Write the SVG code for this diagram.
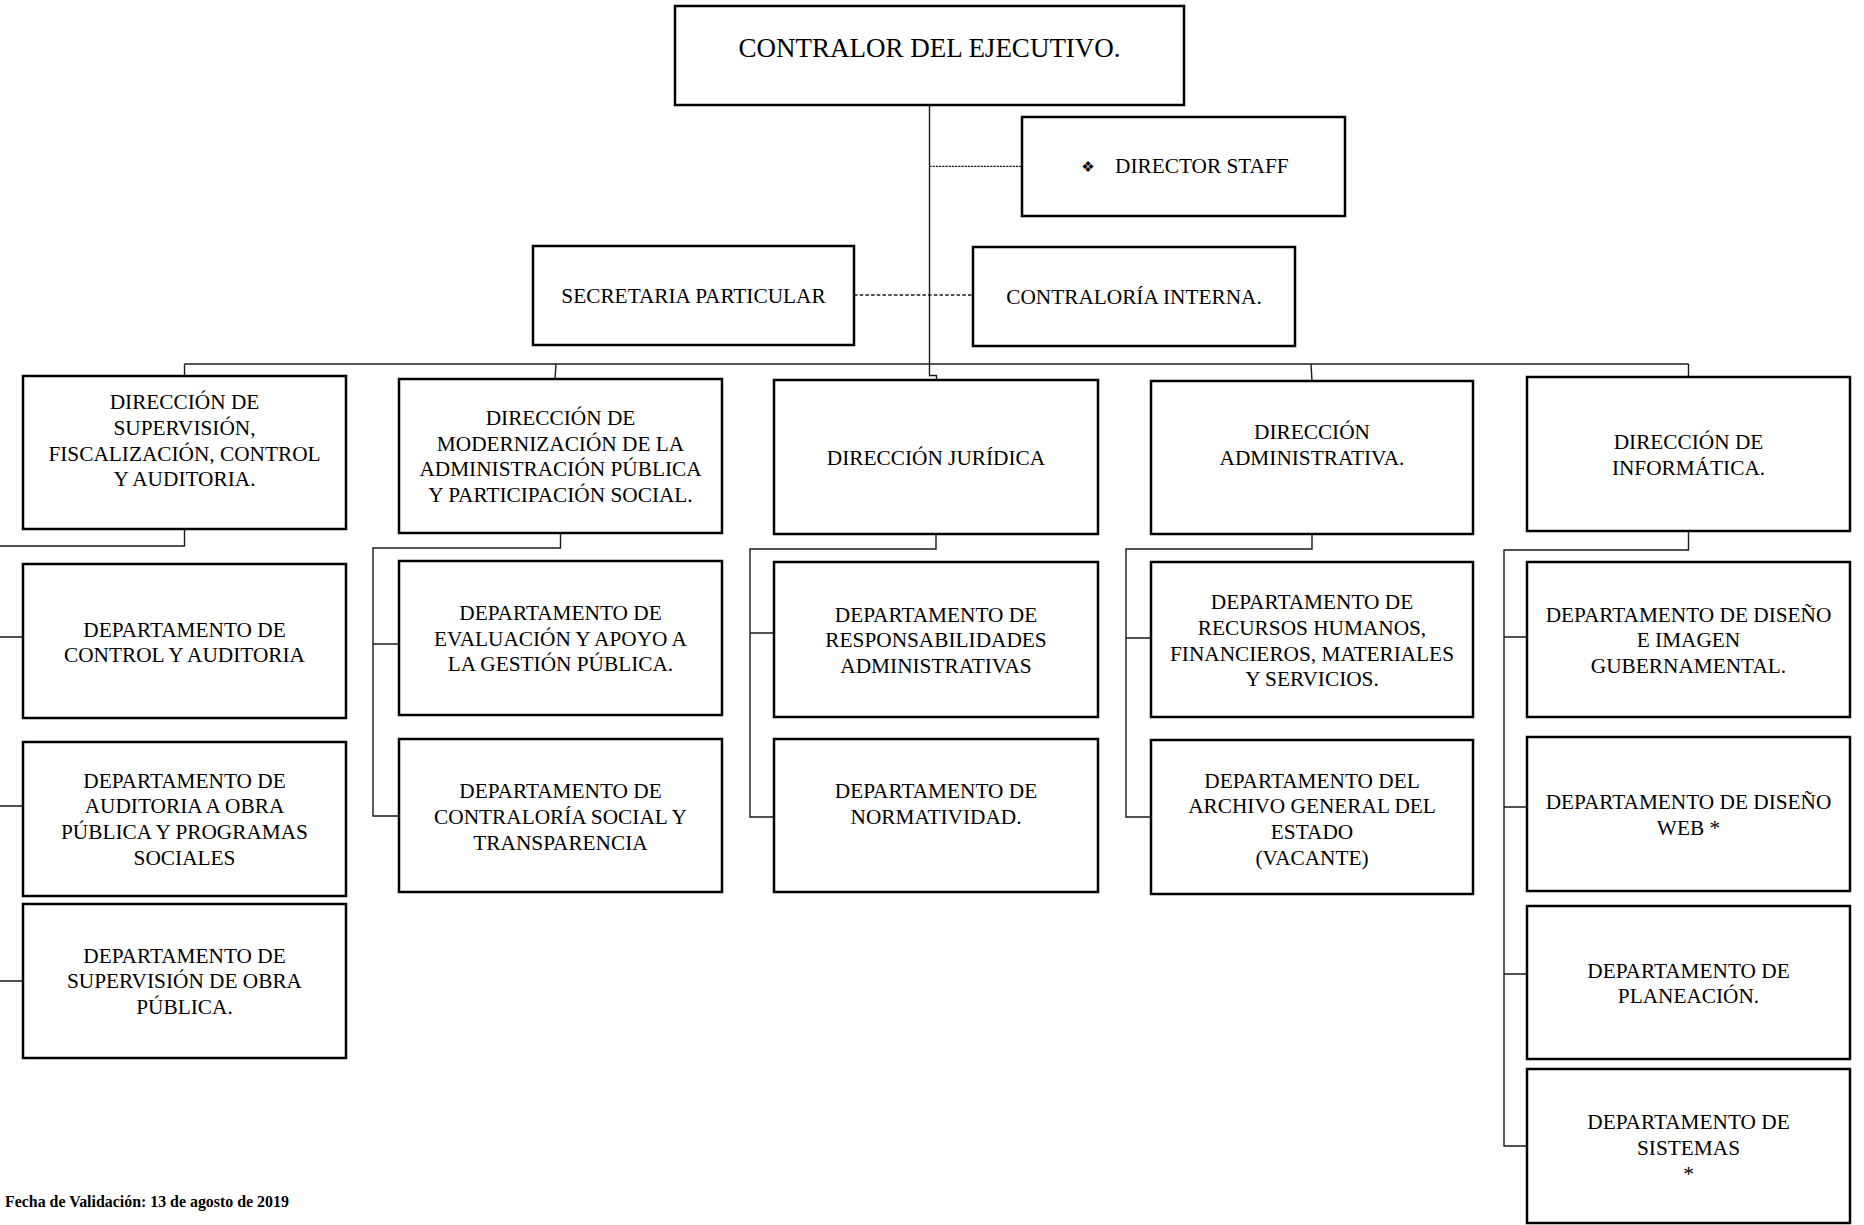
<svg xmlns="http://www.w3.org/2000/svg" width="1864" height="1225" viewBox="0 0 1864 1225">
<style>
.box{fill:#fff;stroke:#000;stroke-width:2.5}
.t{font-family:"Liberation Serif","Times New Roman",serif;font-size:21.3px;fill:#000;text-anchor:middle}
.ts{font-family:"Liberation Serif","Times New Roman",serif;font-size:21.3px;fill:#000;text-anchor:start}
.title{font-size:27px}
.ln{fill:none;stroke:#1a1a1a;stroke-width:1.4}
.dot1{fill:none;stroke:#1a1a1a;stroke-width:1.2;stroke-dasharray:2.2 1}
.dot2{fill:none;stroke:#1a1a1a;stroke-width:1.4;stroke-dasharray:3.5 2.2}
.foot{font-family:"Liberation Serif","Times New Roman",serif;font-size:15.9px;font-weight:bold;fill:#000}
</style>
<rect width="1864" height="1225" fill="#fff"/>
<g id="connectors">
<path class="ln" d="M929.5 105V375.5H936.5V380"/>
<path class="ln" d="M184.5 364H1688.5"/>
<path class="ln" d="M184.5 364V376"/>
<path class="ln" d="M556 364L555 379"/>
<path class="ln" d="M1311 364L1312 381"/>
<path class="ln" d="M1688.5 364V377"/>
<path class="dot1" d="M929.5 166.3H1022"/>
<path class="dot2" d="M854 295H973"/>
<path class="ln" d="M184.5 529V546H0"/>
<path class="ln" d="M0 637H23M0 806H23M0 981H23"/>
<path class="ln" d="M560.5 533V548H373V816H399M373 644H399"/>
<path class="ln" d="M936 534V549H750V817H774M750 633H774"/>
<path class="ln" d="M1312 534V549H1126V817H1151M1126 638H1151"/>
<path class="ln" d="M1688.5 531V550H1504V1146H1527M1504 637H1527M1504 807H1527M1504 974H1527"/>
</g>
<g id="contralor"><rect class="box" x="675" y="6" width="509" height="99"/><text class="t title" x="929.5" y="57.3">CONTRALOR DEL EJECUTIVO.</text></g>
<g id="director-staff"><rect class="box" x="1022" y="117" width="323" height="99"/><text x="1088" y="172" font-family="DejaVu Sans,sans-serif" font-size="15" text-anchor="middle">❖</text><text class="ts" x="1115" y="173.3">DIRECTOR STAFF</text></g>
<g id="secretaria"><rect class="box" x="533" y="246" width="321" height="99"/><text class="t" x="693.5" y="303.3">SECRETARIA PARTICULAR</text></g>
<g id="contraloria-interna"><rect class="box" x="973" y="247" width="322" height="99"/><text class="t" x="1134" y="304">CONTRALORÍA INTERNA.</text></g>
<g id="dir-supervision"><rect class="box" x="23" y="376" width="323" height="153"/><text class="t" x="184.5" y="409.3">DIRECCIÓN DE</text><text class="t" x="184.5" y="435">SUPERVISIÓN,</text><text class="t" x="184.5" y="460.7">FISCALIZACIÓN, CONTROL</text><text class="t" x="184.5" y="486.4">Y AUDITORIA.</text></g>
<g id="dir-modernizacion"><rect class="box" x="399" y="379" width="323" height="154"/><text class="t" x="560.5" y="425">DIRECCIÓN DE</text><text class="t" x="560.5" y="450.7">MODERNIZACIÓN DE LA</text><text class="t" x="560.5" y="476.4">ADMINISTRACIÓN PÚBLICA</text><text class="t" x="560.5" y="502.1">Y PARTICIPACIÓN SOCIAL.</text></g>
<g id="dir-juridica"><rect class="box" x="774" y="380" width="324" height="154"/><text class="t" x="936" y="465">DIRECCIÓN JURÍDICA</text></g>
<g id="dir-administrativa"><rect class="box" x="1151" y="381" width="322" height="153"/><text class="t" x="1312" y="439.3">DIRECCIÓN</text><text class="t" x="1312" y="465">ADMINISTRATIVA.</text></g>
<g id="dir-informatica"><rect class="box" x="1527" y="377" width="323" height="154"/><text class="t" x="1688.5" y="449">DIRECCIÓN DE</text><text class="t" x="1688.5" y="474.7">INFORMÁTICA.</text></g>
<g id="dep-control"><rect class="box" x="23" y="564" width="323" height="154"/><text class="t" x="184.5" y="636.7">DEPARTAMENTO DE</text><text class="t" x="184.5" y="662.4">CONTROL Y AUDITORIA</text></g>
<g id="dep-auditoria-obra"><rect class="box" x="23" y="742" width="323" height="154"/><text class="t" x="184.5" y="787.7">DEPARTAMENTO DE</text><text class="t" x="184.5" y="813.4">AUDITORIA A OBRA</text><text class="t" x="184.5" y="839.1">PÚBLICA Y PROGRAMAS</text><text class="t" x="184.5" y="864.8">SOCIALES</text></g>
<g id="dep-supervision-obra"><rect class="box" x="23" y="904" width="323" height="154"/><text class="t" x="184.5" y="962.7">DEPARTAMENTO DE</text><text class="t" x="184.5" y="988.4">SUPERVISIÓN DE OBRA</text><text class="t" x="184.5" y="1014.1">PÚBLICA.</text></g>
<g id="dep-evaluacion"><rect class="box" x="399" y="561" width="323" height="154"/><text class="t" x="560.5" y="620">DEPARTAMENTO DE</text><text class="t" x="560.5" y="645.7">EVALUACIÓN Y APOYO A</text><text class="t" x="560.5" y="671.4">LA GESTIÓN PÚBLICA.</text></g>
<g id="dep-contraloria-social"><rect class="box" x="399" y="739" width="323" height="153"/><text class="t" x="560.5" y="798.3">DEPARTAMENTO DE</text><text class="t" x="560.5" y="824">CONTRALORÍA SOCIAL Y</text><text class="t" x="560.5" y="849.7">TRANSPARENCIA</text></g>
<g id="dep-responsabilidades"><rect class="box" x="774" y="562" width="324" height="155"/><text class="t" x="936" y="621.7">DEPARTAMENTO DE</text><text class="t" x="936" y="647.4">RESPONSABILIDADES</text><text class="t" x="936" y="673.1">ADMINISTRATIVAS</text></g>
<g id="dep-normatividad"><rect class="box" x="774" y="739" width="324" height="153"/><text class="t" x="936" y="798">DEPARTAMENTO DE</text><text class="t" x="936" y="823.7">NORMATIVIDAD.</text></g>
<g id="dep-recursos"><rect class="box" x="1151" y="562" width="322" height="155"/><text class="t" x="1312" y="609.3">DEPARTAMENTO DE</text><text class="t" x="1312" y="635">RECURSOS HUMANOS,</text><text class="t" x="1312" y="660.7">FINANCIEROS, MATERIALES</text><text class="t" x="1312" y="686.4">Y SERVICIOS.</text></g>
<g id="dep-archivo"><rect class="box" x="1151" y="740" width="322" height="154"/><text class="t" x="1312" y="787.7">DEPARTAMENTO DEL</text><text class="t" x="1312" y="813.4">ARCHIVO GENERAL DEL</text><text class="t" x="1312" y="839.1">ESTADO</text><text class="t" x="1312" y="864.8">(VACANTE)</text></g>
<g id="dep-diseno-imagen"><rect class="box" x="1527" y="562" width="323" height="155"/><text class="t" x="1688.5" y="621.7">DEPARTAMENTO DE DISEÑO</text><text class="t" x="1688.5" y="647.4">E IMAGEN</text><text class="t" x="1688.5" y="673.1">GUBERNAMENTAL.</text></g>
<g id="dep-diseno-web"><rect class="box" x="1527" y="737" width="323" height="154"/><text class="t" x="1688.5" y="809.3">DEPARTAMENTO DE DISEÑO</text><text class="t" x="1688.5" y="835">WEB *</text></g>
<g id="dep-planeacion"><rect class="box" x="1527" y="906" width="323" height="153"/><text class="t" x="1688.5" y="977.7">DEPARTAMENTO DE</text><text class="t" x="1688.5" y="1003.4">PLANEACIÓN.</text></g>
<g id="dep-sistemas"><rect class="box" x="1527" y="1069" width="323" height="154"/><text class="t" x="1688.5" y="1129.3">DEPARTAMENTO DE</text><text class="t" x="1688.5" y="1155">SISTEMAS</text><text class="t" x="1688.5" y="1180.7">*</text></g>
<text class="foot" x="5" y="1206.7">Fecha de Validación: 13 de agosto de 2019</text>
</svg>
